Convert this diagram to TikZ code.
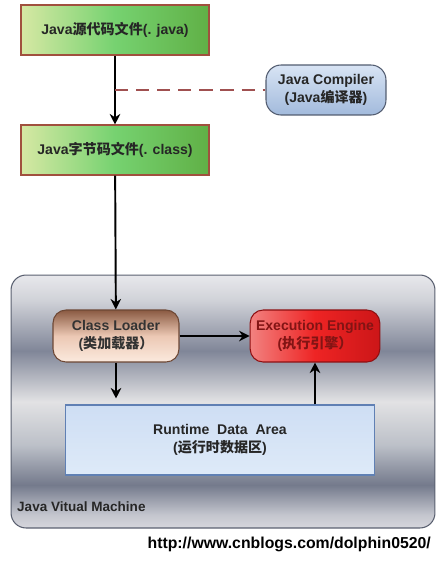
\documentclass[tikz,border=0pt]{standalone}
\usepackage{fontspec}
\setmainfont{Liberation Sans}
\newfontfamily\zh{Noto Sans CJK SC}
\usepackage{tikz}
\usetikzlibrary{calc, positioning, arrows.meta}
\definecolor{srcLight}{RGB}{214,232,164}
\definecolor{srcMid}{RGB}{118,210,112}
\definecolor{srcDark}{RGB}{96,176,70}
\definecolor{srcBorder}{RGB}{160,80,62}
\definecolor{cmpTop}{RGB}{216,228,244}
\definecolor{cmpBottom}{RGB}{162,186,220}
\definecolor{cmpBorder}{RGB}{82,92,112}
\definecolor{clTop}{RGB}{138,90,66}
\definecolor{clMid}{RGB}{236,200,180}
\definecolor{clBottom}{RGB}{251,234,222}
\definecolor{engLeft}{RGB}{242,130,128}
\definecolor{engMid}{RGB}{238,36,36}
\definecolor{engRight}{RGB}{204,22,24}
\definecolor{engText}{RGB}{130,20,20}
\definecolor{rdaTop}{RGB}{206,222,244}
\definecolor{rdaBottom}{RGB}{222,234,248}
\definecolor{rdaBorder}{RGB}{96,128,180}
\definecolor{jvmBorder}{RGB}{90,96,112}
\definecolor{dashRed}{RGB}{160,80,80}
\pgfdeclareverticalshading{jvmband}{100bp}{%
  color(0bp)=(rgb,255:red,214;green,214;blue,220);
  color(25bp)=(rgb,255:red,214;green,214;blue,220);
  color(27.6bp)=(rgb,255:red,196;green,198;blue,206);
  color(33.5bp)=(rgb,255:red,116;green,122;blue,140);
  color(41.4bp)=(rgb,255:red,188;green,192;blue,200);
  color(50bp)=(rgb,255:red,226;green,226;blue,228);
  color(60bp)=(rgb,255:red,128;green,134;blue,152);
  color(70bp)=(rgb,255:red,208;green,210;blue,216);
  color(75bp)=(rgb,255:red,232;green,232;blue,236);
  color(100bp)=(rgb,255:red,232;green,232;blue,236)}

\begin{document}
\begin{tikzpicture}[
  x=0.02cm, y=-0.02cm,
  font=\bfseries\fontsize{8}{10}\selectfont,
  flow/.style={-{Stealth[length=6pt,width=6pt]}, line width=1.1pt, black},
  filebox/.style={draw=srcBorder, line width=0.6pt, left color=srcLight,
    right color=srcDark, middle color=srcMid,
    minimum width=3.76cm, minimum height=1cm, align=center, text=black!85},
  roundbox/.style={line width=0.6pt, rounded corners=0.26cm,
    minimum width=2.52cm, minimum height=1.04cm, align=center},
]
\useasboundingbox (0,0) rectangle (448,565);

% --- JVM frame -------------------------------------------------------
\node[draw=jvmBorder, line width=0.6pt, rounded corners=0.3cm, shading=jvmband,
  minimum width=8.48cm, minimum height=5.06cm] (jvm) at (223,401.5) {};
\node[anchor=west, text=black!85, font=\bfseries\fontsize{7.7}{10}\selectfont]
  (jvmlabel) at (11,507) {Java Vitual Machine};

% --- Compile stage ---------------------------------------------------
\node[filebox] (src) at (115,30) {Java{\zh 源代码文件}(. java)};
\node[filebox] (bc) at (115,150) {Java{\zh 字节码文件}(. class)};
\node[roundbox, draw=cmpBorder, top color=cmpTop, bottom color=cmpBottom,
  minimum width=2.4cm, minimum height=1cm, rounded corners=0.3cm, text=black!85]
  (cmp) at (326,90) {Java Compiler\\(Java{\zh 编译器})};

\coordinate (tap) at (src.south |- cmp.west);
\draw[flow] (src) -- (bc);
\draw[dashRed, line width=1pt, dash pattern=on 7.5pt off 4.5pt] (tap) -- (cmp.west);

% --- Inside the JVM --------------------------------------------------
\node[roundbox, draw=clTop!80!black, top color=clTop, bottom color=clBottom,
  middle color=clMid, text=black!80] (cl) at (116,336)
  {Class Loader\\({\zh 类加载器）}};
\node[roundbox, draw=engRight!70!black, left color=engLeft, right color=engRight,
  middle color=engMid, minimum width=2.56cm, text=engText] (eng) at (315,336)
  {Execution Engine\\({\zh 执行引擎）}};
\node[draw=rdaBorder, line width=0.6pt, top color=rdaTop, bottom color=rdaBottom,
  minimum width=6.2cm, minimum height=1.4cm,
  align=center, text=black!85] (rda) at (220,440)
  {Runtime~~Data~~Area\\({\zh 运行时数据区})};

\draw[flow] (bc) -- (cl);
\draw[flow] (cl) -- (eng);
\draw[flow] (cl.south) -- ($(cl.south |- rda.north)+(0,-6)$);
\draw[flow] (eng.south |- rda.north) -- (eng.south);

% --- Source link ------------------------------------------------------
\node[anchor=east, font=\bfseries\fontsize{9}{11}\selectfont] (url) at (437,544)
  {http://www.cnblogs.com/dolphin0520/};
\end{tikzpicture}
\end{document}
